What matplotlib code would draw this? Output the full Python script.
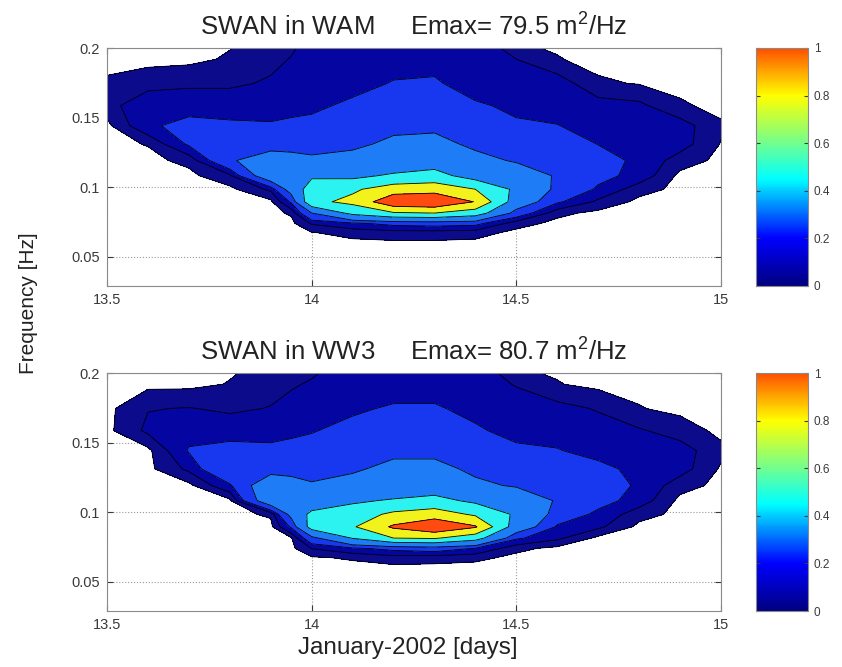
import numpy as np
import matplotlib
matplotlib.use("Agg")
import matplotlib.pyplot as plt
from matplotlib.colors import LinearSegmentedColormap, Normalize
from matplotlib.cm import ScalarMappable

plt.rcParams['font.family'] = ['Liberation Sans', 'DejaVu Sans']
plt.rcParams['mathtext.default'] = 'regular'

# time axis (days of January 2002) and model frequencies (Hz)
days = [13.5, 13.6, 13.7, 13.8, 13.9, 13.95, 14.0, 14.1, 14.2,
        14.3, 14.4, 14.5, 14.6, 14.7, 14.8, 14.9, 15.0]
freqs = [0.0418, 0.0459, 0.0505, 0.0556, 0.0612, 0.0673, 0.0740, 0.0814, 0.0895,
         0.0985, 0.1083, 0.1192, 0.1311, 0.1442, 0.1586, 0.1745, 0.1919, 0.2111]

# normalised energy density E/Emax, one list per day (low -> high frequency)
wam_energy = [
    [0, 0, 0, 0, 0, 0, 0, 0, 0, 0, 0, 0, 0, 0, 0.03, 0.015, 0, 0],
    [0, 0, 0, 0, 0, 0, 0, 0, 0, 0, 0, 0, 0.012, 0.09, 0.09, 0.03, 0, 0],
    [0, 0, 0, 0, 0, 0, 0, 0, 0, 0, 0, 0.02, 0.11, 0.12, 0.075, 0.043, 0, 0],
    [0, 0, 0, 0, 0, 0, 0, 0, 0, 0, 0.04, 0.18, 0.19, 0.11, 0.075, 0.043, 0.015, 0],
    [0, 0, 0, 0, 0, 0, 0, 0, 0, 0.06, 0.3, 0.3, 0.125, 0.11, 0.06, 0.055, 0.04, 0.02],
    [0, 0, 0, 0, 0, 0, 0, 0.015, 0.11, 0.26, 0.37, 0.26, 0.14, 0.115, 0.078, 0.062, 0.052, 0.035],
    [0, 0, 0, 0, 0, 0.008, 0.055, 0.2, 0.55, 0.5, 0.37, 0.23, 0.14, 0.12, 0.085, 0.07, 0.06, 0.055],
    [0, 0, 0, 0, 0.005, 0.022, 0.09, 0.45, 0.65, 0.57, 0.35, 0.25, 0.17, 0.14, 0.115, 0.075, 0.065, 0.06],
    [0, 0, 0, 0, 0.008, 0.03, 0.12, 0.58, 0.95, 0.7, 0.43, 0.24, 0.23, 0.165, 0.14, 0.105, 0.07, 0.065],
    [0, 0, 0, 0, 0.008, 0.03, 0.13, 0.6, 0.98, 0.72, 0.47, 0.3, 0.23, 0.18, 0.15, 0.11, 0.075, 0.065],
    [0, 0, 0, 0, 0.005, 0.025, 0.12, 0.5, 0.79, 0.6, 0.31, 0.23, 0.18, 0.14, 0.11, 0.065, 0.06, 0.055],
    [0, 0, 0, 0, 0, 0, 0.025, 0.15, 0.3, 0.36, 0.26, 0.19, 0.14, 0.11, 0.085, 0.08, 0.05, 0],
    [0, 0, 0, 0, 0, 0, 0, 0.02, 0.11, 0.17, 0.19, 0.17, 0.14, 0.102, 0.075, 0.075, 0.012, 0],
    [0, 0, 0, 0, 0, 0, 0, 0, 0.04, 0.09, 0.12, 0.13, 0.098, 0.075, 0.07, 0.015, 0, 0],
    [0, 0, 0, 0, 0, 0, 0, 0, 0, 0.025, 0.08, 0.085, 0.08, 0.07, 0.06, 0.008, 0, 0],
    [0, 0, 0, 0, 0, 0, 0, 0, 0, 0, 0, 0.03, 0.07, 0.07, 0.015, 0, 0, 0],
    [0, 0, 0, 0, 0, 0, 0, 0, 0, 0, 0, 0, 0.008, 0.015, 0, 0, 0, 0],
]

ww3_energy = [
    [0, 0, 0, 0, 0, 0, 0, 0, 0, 0, 0, 0, 0, 0, 0, 0, 0, 0],
    [0, 0, 0, 0, 0, 0, 0, 0, 0, 0, 0, 0, 0, 0, 0.06, 0.048, 0, 0],
    [0, 0, 0, 0, 0, 0, 0, 0, 0, 0, 0, 0, 0.06, 0.105, 0.08, 0.052, 0, 0],
    [0, 0, 0, 0, 0, 0, 0, 0, 0, 0, 0, 0.09, 0.19, 0.12, 0.077, 0.042, 0.012, 0],
    [0, 0, 0, 0, 0, 0, 0, 0, 0, 0.015, 0.3, 0.3, 0.15, 0.115, 0.077, 0.052, 0.035, 0.015],
    [0, 0, 0, 0, 0, 0, 0, 0.005, 0.11, 0.24, 0.33, 0.26, 0.15, 0.12, 0.087, 0.065, 0.045, 0.025],
    [0, 0, 0, 0, 0, 0.005, 0.052, 0.16, 0.48, 0.45, 0.26, 0.21, 0.165, 0.13, 0.095, 0.075, 0.055, 0.03],
    [0, 0, 0, 0, 0, 0.015, 0.09, 0.41, 0.58, 0.5, 0.37, 0.24, 0.185, 0.15, 0.125, 0.087, 0.07, 0.06],
    [0, 0, 0, 0, 0.005, 0.03, 0.12, 0.6, 0.83, 0.64, 0.42, 0.25, 0.23, 0.175, 0.15, 0.11, 0.06, 0.055],
    [0, 0, 0, 0, 0.004, 0.025, 0.14, 0.62, 0.97, 0.7, 0.46, 0.29, 0.23, 0.175, 0.15, 0.108, 0.07, 0.06],
    [0, 0, 0, 0, 0, 0.02, 0.098, 0.48, 0.82, 0.57, 0.36, 0.22, 0.18, 0.14, 0.11, 0.08, 0.065, 0.055],
    [0, 0, 0, 0, 0, 0, 0.02, 0.11, 0.3, 0.37, 0.28, 0.19, 0.14, 0.115, 0.077, 0.065, 0.048, 0],
    [0, 0, 0, 0, 0, 0, 0, 0.06, 0.09, 0.15, 0.19, 0.17, 0.14, 0.103, 0.08, 0.065, 0.012, 0],
    [0, 0, 0, 0, 0, 0, 0, 0, 0.06, 0.085, 0.125, 0.14, 0.115, 0.082, 0.07, 0.046, 0, 0],
    [0, 0, 0, 0, 0, 0, 0, 0, 0, 0.025, 0.075, 0.09, 0.085, 0.075, 0.055, 0.012, 0, 0],
    [0, 0, 0, 0, 0, 0, 0, 0, 0, 0, 0, 0.025, 0.07, 0.07, 0.03, 0, 0, 0],
    [0, 0, 0, 0, 0, 0, 0, 0, 0, 0, 0, 0, 0.005, 0.02, 0, 0, 0, 0],
]

titles = ["SWAN in WAM     Emax= 79.5 m$^2$/Hz",
          "SWAN in WW3     Emax= 80.7 m$^2$/Hz"]

levels = [0.01, 0.05, 0.1, 0.2, 0.4, 0.6, 0.8, 1.01]
fill_colors = ['#0b0b8c', '#0505a2', '#1838f0', '#1e7cf6', '#2cf2f0', '#f2f21c', '#ff4a10']

cbar_cmap = LinearSegmentedColormap.from_list(
    'jetlike', [(0.0, '#000080'), (0.2, '#0000ff'), (0.45, '#00ffff'),
                (0.62, '#80ff80'), (0.8, '#ffff00'), (1.0, '#ff5000')])

fig = plt.figure(figsize=(8.42, 6.67), dpi=100)
W, H = 842.0, 667.0

panels = [(48, 286, wam_energy), (373, 611, ww3_energy)]
for (top, bot, data), title in zip(panels, titles):
    ax = fig.add_axes([107 / W, 1 - bot / H, (721 - 107) / W, (bot - top) / H])
    Z = np.array(data).T
    ax.set_axisbelow(True)
    ax.grid(True, linestyle=':', color='#999999', linewidth=0.8)
    ax.contourf(days, freqs, Z, levels=levels, colors=fill_colors)
    ax.contour(days, freqs, Z, levels=levels[:-1], colors='black', linewidths=0.6)
    ax.set_xlim(13.5, 15)
    ax.set_ylim(0.029, 0.2)
    ax.set_xticks([13.5, 14, 14.5, 15])
    ax.set_xticklabels(['13.5', '14', '14.5', '15'])
    ax.set_yticks([0.05, 0.1, 0.15, 0.2])
    ax.set_yticklabels(['0.05', '0.1', '0.15', '0.2'])
    ax.tick_params(direction='in', length=4, labelsize=10.5, colors='#3a3a3a',
                   top=True, right=True, pad=5)
    for s in ax.spines.values():
        s.set_color('#8a8a8a')
    ax.set_title(title, fontsize=18.5, color='#222222', pad=9)

    cax = fig.add_axes([756 / W, 1 - bot / H, (808 - 756) / W, (bot - top) / H])
    cb = fig.colorbar(ScalarMappable(norm=Normalize(0, 1), cmap=cbar_cmap), cax=cax)
    cb.set_ticks([0, 0.2, 0.4, 0.6, 0.8, 1])
    cb.set_ticklabels(['0', '0.2', '0.4', '0.6', '0.8', '1'])
    cb.ax.tick_params(direction='in', length=3, labelsize=8.5, colors='#3a3a3a',
                      left=True, pad=4)
    cb.outline.set_edgecolor('#8a8a8a')

fig.text(28 / W, 1 - 303 / H, 'Frequency [Hz]', rotation=90, ha='center', va='center',
         fontsize=15, color='#222222')
fig.text(408 / W, 1 - 648 / H, 'January-2002 [days]', ha='center', va='center',
         fontsize=17.5, color='#222222')

fig.savefig('out.png', dpi=100)
